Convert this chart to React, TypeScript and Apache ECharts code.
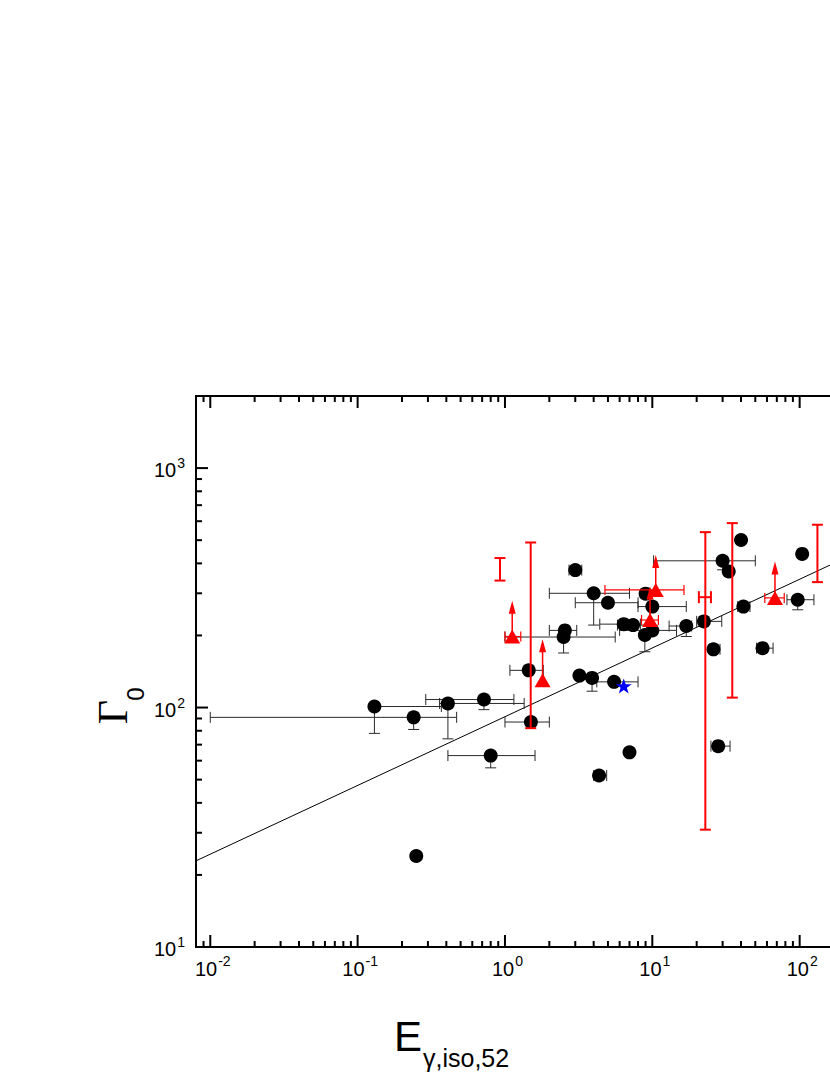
import React, { useEffect, useRef } from 'react';
import * as echarts from 'echarts';

const X_MIN = 0.008;
const X_MAX = 1000;
const Y_MIN = 10;
const Y_MAX = 2000;

// Black circles: E_iso,52 , Gamma_0 and their error limits (null = none)
const blackE = [0.13, 0.24, 0.41, 0.72, 0.8, 0.25, 1.45, 1.5, 2.55, 2.5, 3.0, 4.0, 5.0, 6.4, 7.4, 9.0, 10, 8.9, 10, 17, 22.4, 41.5, 26, 56, 97, 104, 40, 30, 33, 5.5, 3.2, 3.9, 7.0, 4.35, 28];
const blackG = [101, 91, 104, 108, 63, 24, 143, 87, 210, 197, 375, 300, 274, 223, 221, 299, 264, 201, 210, 219, 229, 264, 175, 177, 282, 438, 501, 410, 370, 128, 136, 133, 65, 52, 69];
const blackElo = [null, 0.01, 0.36, 0.29, 0.41, null, 1.08, 1.0, 2.0, 1.0, 2.72, 2.0, 3.0, 4.4, 5.8, null, 8.0, null, 6.0, 13, 20, 38, 24.5, 51, 82, null, null, 10.2, null, 4.2, null, null, null, 4.0, 25];
const blackEhi = [0.37, 0.47, 1.35, 1.15, 1.6, null, 1.82, 2.0, 3.07, 5.6, 3.32, 7.0, 8.0, 8.3, 9.6, null, 17, null, 14.6, 18.5, 29.6, 46, 28.8, 66, 125, null, null, 50, null, 8.0, null, null, null, 4.9, 33.7];
const blackGlo = [78, 81, 74, 98, 56, null, null, null, null, 169, null, 221, null, null, null, null, null, 171, null, 198, null, null, null, null, 256, null, null, 376, null, null, null, 117, null, null, null];

// Red triangles (lower limits with upward arrows)
const redE = [1.12, 1.8, 10.55, 9.65, 68];
const redG = [198, 130, 310, 232, 287];
const redElo = [1.0, null, 4.77, 8.45, 58];
const redEhi = [1.28, null, 16.4, 11.0, 78.6];
const redArrowG = [279, 193, 434, 320, 407];

// Red ranges without marker
const rangeE = [0.925, 1.495, 22.9, 34.9, 132];
const rangeGlo = [339, 82, 30.9, 110, 334];
const rangeGhi = [421, 489, 540, 589, 580];
const rangeMidG = [null, null, 289, null, null];
const rangeElo = [null, null, 20.7, null, null];
const rangeEhi = [null, null, 25.0, null, null];

// Blue star
const starE = [6.4];
const starG = [123];

// Fitted relation (end points)
const fitLine = [[0.008, 22.9], [1000, 665]];

// Axis ticks
const tickMultipliers = [1, 2, 3, 4, 5, 6, 7, 8, 9];
const xDecades = [-3, -2, -1, 0, 1, 2];
const yDecades = [1, 2, 3];
const xLabelExponents = [-2, -1, 0, 1, 2];
const yLabelExponents = [1, 2, 3];

const FONT = '"Liberation Sans", Arial, Helvetica, sans-serif';
const SERIF = '"Liberation Serif", "Times New Roman", serif';

function buildTicks(decades: number[], lo: number, hi: number) {
  const out: number[] = [];
  decades.forEach((d) => {
    tickMultipliers.forEach((m) => {
      const v = m * Math.pow(10, d);
      if (v >= lo * 0.9999 && v <= hi * 1.0001) out.push(v);
    });
  });
  if (!out.some((v) => Math.abs(v - hi) / hi < 1e-6)) out.push(hi);
  return out;
}

const isMajor = (v: number) => {
  const l = Math.log10(v);
  return Math.abs(l - Math.round(l)) < 1e-6;
};

const BASE_SIZE = 20;
const EXP_SIZE = 14;
const expWidth = (s: string) => s.split('').reduce((w, ch) => w + (ch === '-' ? 0.333 : 0.556) * EXP_SIZE, 0);
const baseWidth = 2 * 0.556 * BASE_SIZE;

export default function App() {
  const ref = useRef<HTMLDivElement>(null);

  useEffect(() => {
    if (!ref.current) return;
    const chart = echarts.init(ref.current, null, { renderer: 'svg' });

    const xTicks = buildTicks(xDecades, X_MIN, X_MAX);
    const yTicks = buildTicks(yDecades, Y_MIN, Y_MAX);

    const line = (x1: number, y1: number, x2: number, y2: number, stroke: string, lw: number) => ({
      type: 'line',
      shape: { x1, y1, x2, y2 },
      style: { stroke, lineWidth: lw },
    });
    const text = (t: string, x: number, y: number, size: number, align: string) => ({
      type: 'text',
      style: {
        text: t,
        x,
        y,
        fontSize: size,
        fontFamily: FONT,
        textAlign: align,
        textVerticalAlign: 'middle',
        fill: '#000',
      },
    });

    const option: any = {
      animation: false,
      backgroundColor: '#fff',
      grid: {
        left: 196,
        top: 396,
        width: 751,
        height: 551,
        show: true,
        borderColor: '#000',
        borderWidth: 2,
        containLabel: false,
      },
      xAxis: {
        type: 'log',
        logBase: 10,
        min: X_MIN,
        max: X_MAX,
        axisLine: { show: false },
        axisTick: { show: false },
        splitLine: { show: false },
        minorTick: { show: false },
        axisLabel: { show: false },
      },
      yAxis: {
        type: 'log',
        logBase: 10,
        min: Y_MIN,
        max: Y_MAX,
        axisLine: { show: false },
        axisTick: { show: false },
        splitLine: { show: false },
        minorTick: { show: false },
        axisLabel: { show: false },
      },
      graphic: [
        {
          type: 'text',
          x: 113,
          y: 712,
          rotation: Math.PI / 2,
          style: { text: 'Γ', font: '42px ' + SERIF, textAlign: 'center', textVerticalAlign: 'middle', fill: '#000' },
        },
        {
          type: 'text',
          x: 135,
          y: 694,
          rotation: Math.PI / 2,
          style: { text: '0', font: '24px ' + FONT, textAlign: 'center', textVerticalAlign: 'middle', fill: '#000' },
        },
        {
          type: 'text',
          x: 394,
          y: 1036,
          style: { text: 'E', font: '42px ' + FONT, textAlign: 'left', textVerticalAlign: 'middle', fill: '#000' },
        },
        {
          type: 'text',
          x: 423,
          y: 1058,
          style: { text: 'γ,iso,52', font: '25px ' + FONT, textAlign: 'left', textVerticalAlign: 'middle', fill: '#000' },
        },
      ],
      series: [
        {
          name: 'xTicks',
          type: 'custom',
          coordinateSystem: 'cartesian2d',
          z: 10,
          silent: true,
          data: xTicks.map((v) => [v, Y_MIN]),
          renderItem: (params: any, api: any) => {
            const v = xTicks[params.dataIndex];
            const len = isMajor(v) ? 12 : 6;
            const b = api.coord([v, Y_MIN]);
            const t = api.coord([v, Y_MAX]);
            return {
              type: 'group',
              children: [line(b[0], b[1], b[0], b[1] - len, '#000', 2), line(t[0], t[1], t[0], t[1] + len, '#000', 2)],
            };
          },
        },
        {
          name: 'yTicks',
          type: 'custom',
          coordinateSystem: 'cartesian2d',
          z: 10,
          silent: true,
          data: yTicks.map((v) => [X_MIN, v]),
          renderItem: (params: any, api: any) => {
            const v = yTicks[params.dataIndex];
            const len = isMajor(v) ? 12 : 6;
            const l = api.coord([X_MIN, v]);
            const r = api.coord([X_MAX, v]);
            return {
              type: 'group',
              children: [line(l[0], l[1], l[0] + len, l[1], '#000', 2), line(r[0], r[1], r[0] - len, r[1], '#000', 2)],
            };
          },
        },
        {
          name: 'xLabels',
          type: 'custom',
          coordinateSystem: 'cartesian2d',
          z: 10,
          silent: true,
          data: xLabelExponents.map((e) => [Math.pow(10, e), Y_MIN]),
          renderItem: (params: any, api: any) => {
            const e = xLabelExponents[params.dataIndex];
            const p = api.coord([Math.pow(10, e), Y_MIN]);
            const es = String(e);
            const total = baseWidth + expWidth(es);
            const x0 = p[0] - total / 2 + 2;
            return {
              type: 'group',
              children: [
                text('10', x0, p[1] + 22, BASE_SIZE, 'left'),
                text(es, x0 + baseWidth + 1, p[1] + 14, EXP_SIZE, 'left'),
              ],
            };
          },
        },
        {
          name: 'yLabels',
          type: 'custom',
          coordinateSystem: 'cartesian2d',
          z: 10,
          silent: true,
          data: yLabelExponents.map((e) => [X_MIN, Math.pow(10, e)]),
          renderItem: (params: any, api: any) => {
            const e = yLabelExponents[params.dataIndex];
            const p = api.coord([X_MIN, Math.pow(10, e)]);
            const es = String(e);
            const xr = p[0] - 11;
            const xe = xr - expWidth(es);
            return {
              type: 'group',
              children: [
                text('10', xe - 1, p[1] + 2, BASE_SIZE, 'right'),
                text(es, xe, p[1] - 5, EXP_SIZE, 'left'),
              ],
            };
          },
        },
        {
          name: 'fit',
          type: 'line',
          z: 2,
          data: fitLine,
          symbol: 'none',
          lineStyle: { color: '#000', width: 1 },
          silent: true,
        },
        {
          name: 'blackErr',
          type: 'custom',
          coordinateSystem: 'cartesian2d',
          z: 3,
          silent: true,
          data: blackE.map((e, i) => [e, blackG[i]]),
          renderItem: (params: any, api: any) => {
            const i = params.dataIndex;
            const e = blackE[i];
            const g = blackG[i];
            const c = api.coord([e, g]);
            const ch: any[] = [];
            const col = '#2a2a2a';
            const elo = blackElo[i];
            const ehi = blackEhi[i];
            const glo = blackGlo[i];
            if (elo != null || ehi != null) {
              const xl = elo != null ? api.coord([elo, g])[0] : c[0];
              const xr = ehi != null ? api.coord([ehi, g])[0] : c[0];
              ch.push(line(xl, c[1], xr, c[1], col, 1));
              if (elo != null) ch.push(line(xl, c[1] - 5.5, xl, c[1] + 5.5, col, 1));
              if (ehi != null) ch.push(line(xr, c[1] - 5.5, xr, c[1] + 5.5, col, 1));
            }
            if (glo != null) {
              const yb = api.coord([e, glo])[1];
              ch.push(line(c[0], c[1], c[0], yb, col, 1));
              ch.push(line(c[0] - 5.5, yb, c[0] + 5.5, yb, col, 1));
            }
            return { type: 'group', children: ch };
          },
        },
        {
          name: 'black',
          type: 'scatter',
          z: 4,
          data: blackE.map((e, i) => [e, blackG[i]]),
          symbol: 'circle',
          symbolSize: 14,
          itemStyle: { color: '#000', opacity: 1 },
          silent: true,
        },
        {
          name: 'redRanges',
          type: 'custom',
          coordinateSystem: 'cartesian2d',
          z: 5,
          silent: true,
          data: rangeE.map((e, i) => [e, rangeGhi[i]]),
          renderItem: (params: any, api: any) => {
            const i = params.dataIndex;
            const e = rangeE[i];
            const top = api.coord([e, rangeGhi[i]]);
            const bot = api.coord([e, rangeGlo[i]]);
            const col = '#ff0000';
            const ch: any[] = [
              line(top[0], top[1], bot[0], bot[1], col, 2),
              line(top[0] - 5.5, top[1], top[0] + 5.5, top[1], col, 2),
              line(bot[0] - 5.5, bot[1], bot[0] + 5.5, bot[1], col, 2),
            ];
            const mg = rangeMidG[i];
            const lo = rangeElo[i];
            const hi = rangeEhi[i];
            if (mg != null && lo != null && hi != null) {
              const a = api.coord([lo, mg]);
              const b = api.coord([hi, mg]);
              ch.push(line(a[0], a[1], b[0], b[1], col, 2));
              ch.push(line(a[0], a[1] - 6, a[0], a[1] + 6, col, 2));
              ch.push(line(b[0], b[1] - 6, b[0], b[1] + 6, col, 2));
            }
            return { type: 'group', children: ch };
          },
        },
        {
          name: 'redArrows',
          type: 'custom',
          coordinateSystem: 'cartesian2d',
          z: 5,
          silent: true,
          data: redE.map((e, i) => [e, redG[i]]),
          renderItem: (params: any, api: any) => {
            const i = params.dataIndex;
            const e = redE[i];
            const g = redG[i];
            const c = api.coord([e, g]);
            const tip = api.coord([e, redArrowG[i]]);
            const col = '#ff0000';
            const ch: any[] = [
              line(c[0], c[1], c[0], tip[1] + 11, col, 1.5),
              {
                type: 'polygon',
                shape: { points: [[tip[0], tip[1]], [tip[0] - 3.5, tip[1] + 13], [tip[0] + 3.5, tip[1] + 13]] },
                style: { fill: col },
              },
            ];
            const lo = redElo[i];
            const hi = redEhi[i];
            if (lo != null && hi != null) {
              const xl = api.coord([lo, g])[0];
              const xr = api.coord([hi, g])[0];
              ch.push(line(xl, c[1], xr, c[1], col, 1.2));
              ch.push(line(xl, c[1] - 5, xl, c[1] + 5, col, 1.2));
              ch.push(line(xr, c[1] - 5, xr, c[1] + 5, col, 1.2));
            }
            return { type: 'group', children: ch };
          },
        },
        {
          name: 'red',
          type: 'scatter',
          z: 6,
          data: redE.map((e, i) => [e, redG[i]]),
          symbol: 'triangle',
          symbolSize: [16, 14],
          itemStyle: { color: '#ff0000', opacity: 1 },
          silent: true,
        },
        {
          name: 'star',
          type: 'scatter',
          z: 7,
          data: starE.map((e, i) => [e, starG[i]]),
          symbol:
            'path://M50,0 L61.8,35.1 L98.9,35.1 L69,57 L80.2,91.9 L50,70.5 L19.8,91.9 L31,57 L1.1,35.1 L38.2,35.1 Z',
          symbolSize: [16, 15],
          itemStyle: { color: '#0000ff', opacity: 1 },
          silent: true,
        },
      ],
    };

    chart.setOption(option);
    return () => chart.dispose();
  }, []);

  return (
    <div
      style={{
        position: 'absolute',
        left: 0,
        top: 0,
        width: 830,
        height: 1075,
        overflow: 'hidden',
        background: '#fff',
      }}
    >
      <div ref={ref} style={{ width: 1000, height: 1075 }} />
    </div>
  );
}
